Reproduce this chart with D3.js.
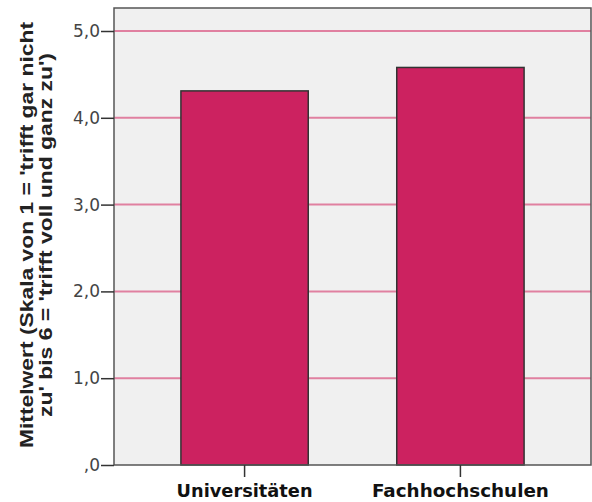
<!DOCTYPE html>
<html>
<head>
<meta charset="utf-8">
<script src="https://cdn.jsdelivr.net/npm/d3@7"></script>
<style>
  body { margin: 0; background: #fff; }
  svg { display: block; }
</style>
</head>
<body>
<section></section>
<script>
// global constants.
const width = 592;
const height = 502;
const margin = { top: 8, right: 1, bottom: 37, left: 114 };

const categories = ['Universitäten', 'Fachhochschulen'];
const means = [4.31, 4.58];
const yTicks = [0, 1, 2, 3, 4, 5];
const yTickLabels = [',0', '1,0', '2,0', '3,0', '4,0', '5,0'];
const titleLines = [
  "Mittelwert (Skala von 1 = 'trifft gar nicht",
  "zu' bis 6 = 'trifft voll und ganz zu')"
];

const svg = d3.select('section')
  .append('svg')
  .attr('width', width)
  .attr('height', height);

// x scale
const xScale = d3.scaleBand()
  .domain(categories)
  .range([margin.left, width - margin.right])
  .paddingInner(0.41)
  .paddingOuter(0.31);

// y scale
const yScale = d3.scaleLinear()
  .domain([0, 5.265])
  .range([height - margin.bottom, margin.top]);

// plot background
svg.append('rect')
  .attr('x', margin.left)
  .attr('y', margin.top)
  .attr('width', width - margin.right - margin.left)
  .attr('height', height - margin.bottom - margin.top)
  .attr('fill', '#f0f0f0');

// grid lines
svg.append('g')
  .selectAll('line')
  .data(yTicks.filter((d) => d > 0))
  .enter()
  .append('line')
  .attr('x1', margin.left)
  .attr('x2', width - margin.right)
  .attr('y1', (d) => yScale(d))
  .attr('y2', (d) => yScale(d))
  .attr('stroke', '#e080a0')
  .attr('stroke-width', 2);

// bars
svg.append('g')
  .selectAll('rect')
  .data(categories)
  .enter()
  .append('rect')
  .attr('x', (d) => xScale(d))
  .attr('y', (d, i) => yScale(means[i]))
  .attr('width', xScale.bandwidth())
  .attr('height', (d, i) => yScale(0) - yScale(means[i]))
  .attr('fill', '#cc2260')
  .attr('stroke', '#333')
  .attr('stroke-width', 1.5);

// frame
svg.append('rect')
  .attr('x', margin.left)
  .attr('y', margin.top)
  .attr('width', width - margin.right - margin.left)
  .attr('height', height - margin.bottom - margin.top)
  .attr('fill', 'none')
  .attr('stroke', '#555')
  .attr('stroke-width', 1.5);

// y axis
const yAxis = d3.axisLeft(yScale)
  .tickValues(yTicks)
  .tickSize(13)
  .tickPadding(1)
  .tickFormat((d, i) => yTickLabels[i]);

const gy = svg.append('g')
  .attr('transform', `translate(${margin.left}, 0)`)
  .call(yAxis);
gy.select('.domain').remove();
gy.selectAll('line').attr('stroke', '#333').attr('stroke-width', 1.5);
gy.selectAll('text')
  .attr('fill', '#444')
  .style('font-family', '"DejaVu Sans", sans-serif')
  .style('font-size', '17px');

// x axis
const xAxis = d3.axisBottom(xScale)
  .tickSize(12)
  .tickPadding(7);

const gx = svg.append('g')
  .attr('transform', `translate(0, ${height - margin.bottom})`)
  .call(xAxis);
gx.select('.domain').remove();
gx.selectAll('line').attr('stroke', '#333').attr('stroke-width', 1.5);
gx.selectAll('text')
  .attr('fill', '#111')
  .attr('textLength', (d) => (d === 'Universitäten' ? 136 : 177))
  .attr('lengthAdjust', 'spacingAndGlyphs')
  .style('font-family', '"DejaVu Sans", sans-serif')
  .style('font-weight', 'bold')
  .style('font-size', '18px');

// y axis title
const title = svg.append('text')
  .attr('transform', 'translate(0, 235) rotate(-90)')
  .attr('text-anchor', 'middle')
  .style('font-family', '"Liberation Sans", Arial, sans-serif')
  .style('font-weight', 'bold')
  .style('font-size', '18px')
  .attr('fill', '#222');

title.selectAll('tspan')
  .data(titleLines)
  .enter()
  .append('tspan')
  .attr('x', 0)
  .attr('y', (d, i) => 33 + i * 19)
  .attr('textLength', (d, i) => (i === 0 ? 426 : 364))
  .attr('lengthAdjust', 'spacingAndGlyphs')
  .text((d) => d);
</script>
</body>
</html>
